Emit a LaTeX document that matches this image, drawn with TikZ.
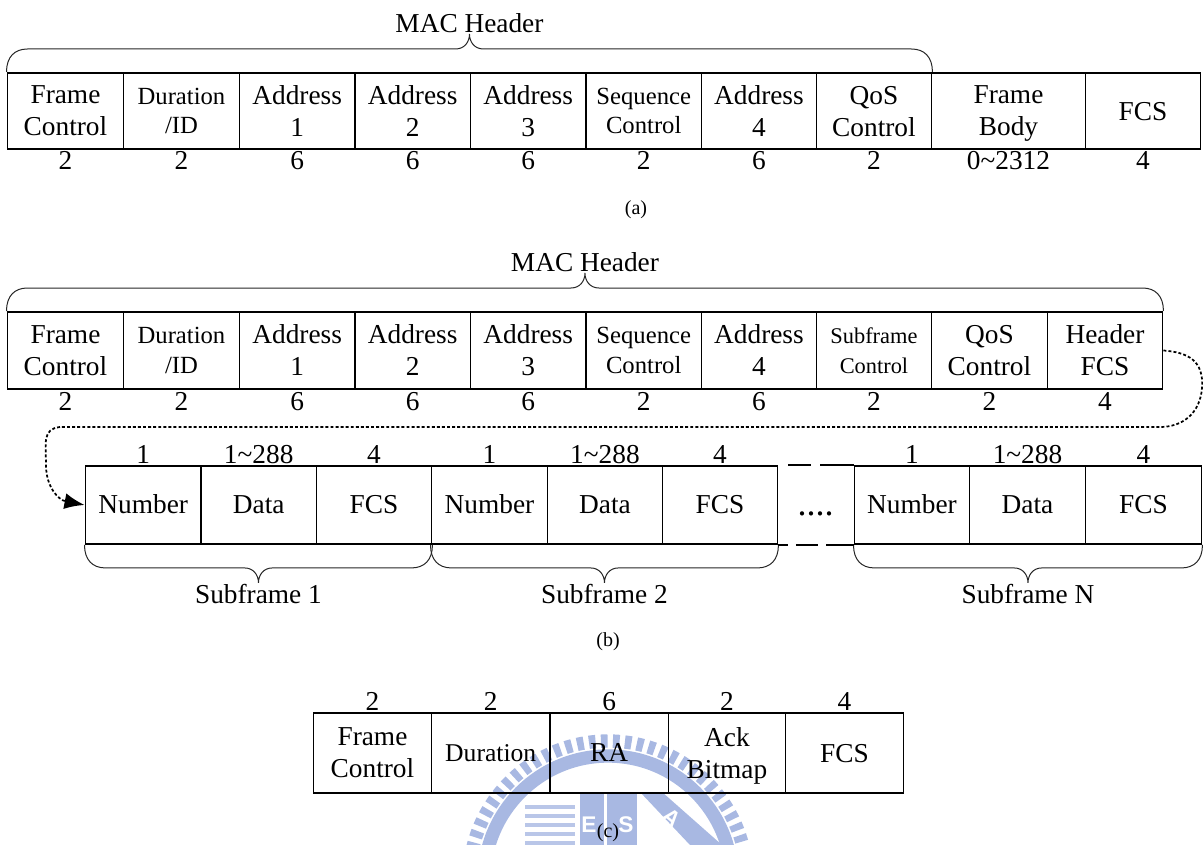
\documentclass[tikz,border=0pt]{standalone}
\usepackage{fontspec}
\setmainfont{Liberation Serif}
\setsansfont{Liberation Sans}
\usetikzlibrary{calc,arrows.meta}
\definecolor{wm}{RGB}{168,184,226}
\newcommand{\bigf}{\fontsize{20.5}{24}\selectfont}
\newcommand{\smallf}{\fontsize{18.5}{22}\selectfont}
\newcommand{\tinyf}{\fontsize{16.8}{20}\selectfont}
\newcommand{\capf}{\fontsize{15}{18}\selectfont}
\tikzset{
  x=0.75pt,y=-0.75pt,
  cell/.style={draw=black,line width=1.45pt,inner sep=0pt,align=center,font=\bigf,anchor=north west,text depth=0pt},
  cellsmall/.style={cell,font=\smallf},
  num/.style={inner sep=0pt,font=\bigf,text height=13.8pt,text depth=0pt},
  captext/.style={inner sep=0pt,font=\capf},
  bracket/.style={draw=black!85,line width=0.75pt},
  link/.style={draw=black,line width=1.3pt,dash pattern=on 2.2pt off 1.6pt},
  gapline/.style={draw=black,line width=1.45pt},
  wmark/.style={inner sep=0pt,text=white,font=\sffamily\bfseries\fontsize{17}{17}\selectfont}
}
% name, x0, x1, y0, y1, style, text
\newcommand{\cellbox}[7]{%
  \pgfmathsetmacro{\cw}{(#3-#2)*0.75}\pgfmathsetmacro{\ch}{(#5-#4)*0.75}%
  \node[#6,minimum width=\cw pt,minimum height=\ch pt] (#1) at (#2-0.5,#4) {#7};}
% from, to, direction(-1 up,+1 down), name, label
\newcommand{\bracefor}[5]{%
  \coordinate (#4m) at ($(#1)!.5!(#2)+(0,#3*23)$);
  \coordinate (#4t) at ($(#1)!.5!(#2)+(0,#3*38)$);
  \draw[bracket] (#1) .. controls +(0,#3*15) and +(-13,0) .. ($(#1)+(21,#3*23)$)
    -- ($(#4m)+(-14,0)$) .. controls +(9,0) and +(0,-#3*8) .. (#4t)
    .. controls +(0,-#3*8) and +(-9,0) .. ($(#4m)+(14,0)$)
    -- ($(#2)+(-21,#3*23)$) .. controls +(13,0) and +(0,#3*15) .. (#2);
  \node[num,anchor=center] (#4l) at ($(#4t)+(0,#3*11)$) {#5};}
\begin{document}
\begin{tikzpicture}
\useasboundingbox (0,0) rectangle (1203,845);
% watermark
\begin{scope}
\clip (0,0) rectangle (1203,845);
\draw[wm,line width=10pt,dash pattern=on 5pt off 4pt] (608,880) circle[radius=139];
\draw[wm,line width=10pt] (608,880) circle[radius=124];
\fill[wm] (580,792) rectangle (604,845);
\fill[wm] (607,792) rectangle (637,845);
\fill[wm] (640,792) -- (662,792) -- (722,845) -- (690,845) -- cycle;
\foreach \yy in {805,814,823,832,841}{\fill[wm!80] (525,\yy) rectangle (575,\yy+4);}
\node[wmark] (wme) at (589,825) {E};
\node[wmark] (wms) at (626,825) {S};
\node[wmark,rotate=-40] (wma) at (672,818) {A};
\end{scope}
% row a
\foreach \nm/\xa/\xb/\st/\tx in {
 afc/7/123/cell/{Frame\\Control},
 adu/123/239/cellsmall/{Duration\\/ID},
 aa1/239/354.5/cell/{Address\\1},
 aa2/354.5/470/cell/{Address\\2},
 aa3/470/585.5/cell/{Address\\3},
 asq/585.5/701/cellsmall/{Sequence\\Control},
 aa4/701/816/cell/{Address\\4},
 aqs/816/931/cell/{QoS\\Control},
 afb/931/1085/cell/{Frame\\Body},
 afs/1085/1200/cell/{FCS}}{
 \cellbox{\nm}{\xa}{\xb}{72}{148}{\st}{\tx}
}
\foreach \nm/\tx in {afc/2,adu/2,aa1/6,aa2/6,aa3/6,asq/2,aa4/6,aqs/2,afb/0\textasciitilde2312,afs/4}{
 \node[num,anchor=center] (\nm n) at ($(\nm.south)+(0,10)$) {\tx};
}
\bracefor{afc.north west}{aqs.north east}{-1}{abr}{MAC Header}
\node[captext] (capa) at (636,210) {(a)};
% row b
\foreach \nm/\xa/\xb/\st/\tx in {
 bfc/7/123/cell/{Frame\\Control},
 bdu/123/239/cellsmall/{Duration\\/ID},
 ba1/239/354.5/cell/{Address\\1},
 ba2/354.5/470/cell/{Address\\2},
 ba3/470/585.5/cell/{Address\\3},
 bsq/585.5/701/cellsmall/{Sequence\\Control},
 ba4/701/816/cell/{Address\\4},
 bsf/816/931/cellsmall/{\tinyf Subframe\\\tinyf Control},
 bqs/931/1047/cell/{QoS\\Control},
 bhf/1047/1162/cell/{Header\\FCS}}{
 \cellbox{\nm}{\xa}{\xb}{311}{388}{\st}{\tx}
}
\foreach \nm/\tx in {bfc/2,bdu/2,ba1/6,ba2/6,ba3/6,bsq/2,ba4/6,bsf/2,bqs/2,bhf/4}{
 \node[num,anchor=center] (\nm n) at ($(\nm.south)+(0,11)$) {\tx};
}
\bracefor{bfc.north west}{bhf.north east}{-1}{bbr}{MAC Header}
% subframes
\foreach \nm/\xa/\xb/\tx/\tp in {
 c1/85/200.5/Number/1, c2/200.5/316/Data/1\textasciitilde288, c3/316/431/FCS/4,
 d1/431/547/Number/1, d2/547/662/Data/1\textasciitilde288, d3/662/777/FCS/4,
 e1/854/969/Number/1, e2/969/1085/Data/1\textasciitilde288, e3/1085/1201/FCS/4}{
 \cellbox{\nm}{\xa}{\xb}{465}{543}{cell}{\raisebox{1pt}{\tx}}
 \node[num,anchor=center] (\nm n) at ($(\nm.north)+(0,-11)$) {\tp};
}
\bracefor{c1.south west}{c3.south east}{1}{cbr}{Subframe 1}
\bracefor{d1.south west}{d3.south east}{1}{dbr}{Subframe 2}
\bracefor{e1.south west}{e3.south east}{1}{ebr}{Subframe N}
\draw[gapline,dash pattern=on 17pt off 7pt on 30pt] (d3.north east) ++(10,0) coordinate (g1) -- (e1.north west);
\draw[gapline,dash pattern=on 7pt off 6pt on 17pt off 6pt on 30pt] (d3.south east) -- (e1.south west);
\node[inner sep=0pt,anchor=base,font=\fontsize{27}{27}\selectfont] (dots) at (815.5,515) {....};
\node[captext] (capb) at (608,642) {(b)};
\coordinate (lk1) at (1160,427);
\coordinate (lk2) at (60,427);
\draw[link] (bhf.east) .. controls +(24,2) and +(2,-28) .. (1202,388) .. controls +(-2,26) and +(22,0) .. (lk1) -- (lk2);
\draw[link,-{Latex[length=15pt,width=12pt]}] (lk2) .. controls +(-18,2) and +(0,-22) .. (46,465) .. controls +(0,22) and +(-26,-5) .. (c1.west);
% row c
\foreach \nm/\xa/\xb/\st/\tx/\tp in {
 ffc/313/431/cell/{Frame\\Control}/2,
 fdu/431/549.5/cellsmall/{\fontsize{19.2}{22}\selectfont Duration}/2,
 fra/549.5/668/cell/{RA}/6,
 fab/668/785/cell/{Ack\\Bitmap}/2,
 ffs/785/903/cell/{FCS}/4}{
 \cellbox{\nm}{\xa}{\xb}{712}{792}{\st}{\tx}
 \node[num,anchor=center] (\nm n) at ($(\nm.north)+(0,-11)$) {\tp};
}
\node[captext] (capc) at (608,833) {(c)};
\end{tikzpicture}
\end{document}
